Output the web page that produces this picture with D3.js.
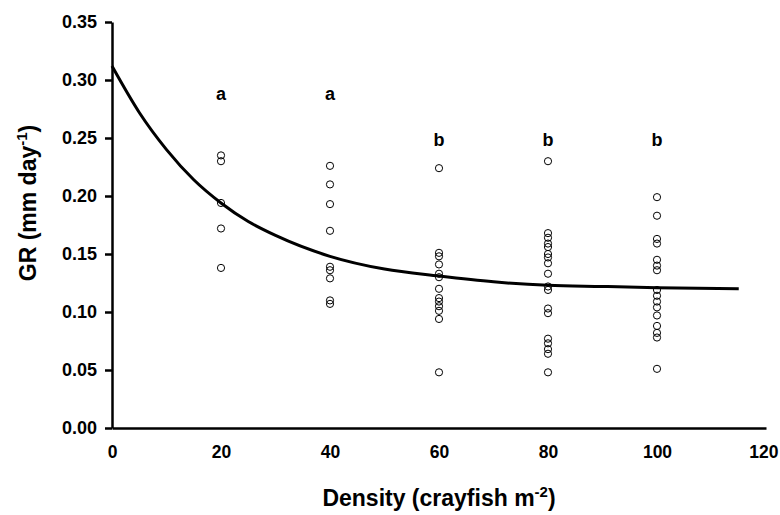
<!DOCTYPE html>
<html><head><meta charset="utf-8">
<script src="https://cdn.jsdelivr.net/npm/d3@7"></script>
<style>body{margin:0;background:#fff}</style>
</head><body>
<svg id="c" width="780" height="515"></svg>
<script>
const densities = [20, 40, 60, 80, 100];
const gr20 = [0.235, 0.230, 0.194, 0.172, 0.138];
const gr40 = [0.226, 0.210, 0.193, 0.170, 0.139, 0.136, 0.129, 0.110, 0.107];
const gr60 = [0.224, 0.151, 0.148, 0.141, 0.133, 0.130, 0.120, 0.112, 0.109, 0.105, 0.101, 0.094, 0.048];
const gr80 = [0.230, 0.168, 0.164, 0.159, 0.156, 0.150, 0.147, 0.142, 0.133, 0.122, 0.119, 0.103, 0.099, 0.077, 0.073, 0.068, 0.064, 0.048];
const gr100 = [0.199, 0.183, 0.163, 0.159, 0.145, 0.140, 0.136, 0.119, 0.114, 0.109, 0.104, 0.097, 0.088, 0.082, 0.078, 0.051];
const groupLetters = ["a", "a", "b", "b", "b"];
const letterLevels = [0.287, 0.287, 0.247, 0.247, 0.247];
const curveX = [0, 5, 10, 15, 20, 25, 30, 40, 50, 60, 70, 80, 90, 100, 115];
const curveY = [0.312, 0.272, 0.240, 0.214, 0.194, 0.178, 0.166, 0.148, 0.137, 0.131, 0.126, 0.123, 0.122, 0.121, 0.120];
const xTicks = [0, 20, 40, 60, 80, 100, 120];
const yTicks = [0, 0.05, 0.10, 0.15, 0.20, 0.25, 0.30, 0.35];

const groups = [gr20, gr40, gr60, gr80, gr100];
const svg = d3.select("#c");
const x = d3.scaleLinear().domain([0, 120]).range([112, 766]);
const y = d3.scaleLinear().domain([0, 0.35]).range([428, 22]);
const font = "'Liberation Sans', Arial, sans-serif";

// axes
const yAxis = svg.append("g").attr("transform", `translate(${x(0)},0)`)
  .call(d3.axisLeft(y).tickValues(yTicks).tickFormat(d3.format(".2f")).tickSize(7).tickSizeOuter(0));
yAxis.select(".domain").attr("stroke-width", 2.5);
yAxis.selectAll(".tick line").attr("stroke-width", 2.5);
yAxis.selectAll("text").attr("font-family", font).attr("font-weight", "bold").attr("font-size", 18).attr("x", -15).attr("fill", "#000");

const xAxis = svg.append("g").attr("transform", `translate(0,${y(0)})`)
  .call(d3.axisBottom(x).tickValues(xTicks).tickFormat(d3.format("d")).tickSize(0).tickSizeOuter(0));
xAxis.select(".domain").attr("stroke-width", 2.5);
xAxis.selectAll("text").attr("font-family", font).attr("font-weight", "bold").attr("font-size", 17.5).attr("dy", "1.55em").attr("fill", "#000");
// keep the last label inside the window
xAxis.selectAll(".tick").filter(d => d === 120).select("text").attr("text-anchor", "end").attr("x", 12);

// curve
const line = d3.line().x((d, i) => x(curveX[i])).y(d => y(d)).curve(d3.curveMonotoneX);
svg.append("path").attr("d", line(curveY)).attr("fill", "none").attr("stroke", "#000").attr("stroke-width", 3);

// points
densities.forEach((dx, gi) => {
  svg.append("g").selectAll("circle").data(groups[gi]).join("circle")
    .attr("cx", x(dx)).attr("cy", d => y(d)).attr("r", 3.6)
    .attr("fill", "#fff").attr("fill-opacity", 0).attr("stroke", "#000").attr("stroke-width", 1);
  svg.append("text").attr("x", x(dx)).attr("y", y(letterLevels[gi]))
    .attr("text-anchor", "middle").attr("dominant-baseline", "middle")
    .attr("font-family", font).attr("font-weight", "bold").attr("font-size", 18)
    .text(groupLetters[gi]);
});

// axis titles
const xt = svg.append("text").attr("x", (x(0) + x(120)) / 2).attr("y", 506)
  .attr("text-anchor", "middle").attr("font-family", font).attr("font-weight", "bold").attr("font-size", 23);
xt.append("tspan").text("Density (crayfish m");
xt.append("tspan").attr("dy", -9).attr("font-size", 15).text("-2");
xt.append("tspan").attr("dy", 9).text(")");

const yt = svg.append("text").attr("transform", `translate(36,203) rotate(-90)`)
  .attr("text-anchor", "middle").attr("font-family", font).attr("font-weight", "bold").attr("font-size", 23);
yt.append("tspan").text("GR (mm day");
yt.append("tspan").attr("dy", -9).attr("font-size", 15).text("-1");
yt.append("tspan").attr("dy", 9).text(")");
</script>
</body></html>
